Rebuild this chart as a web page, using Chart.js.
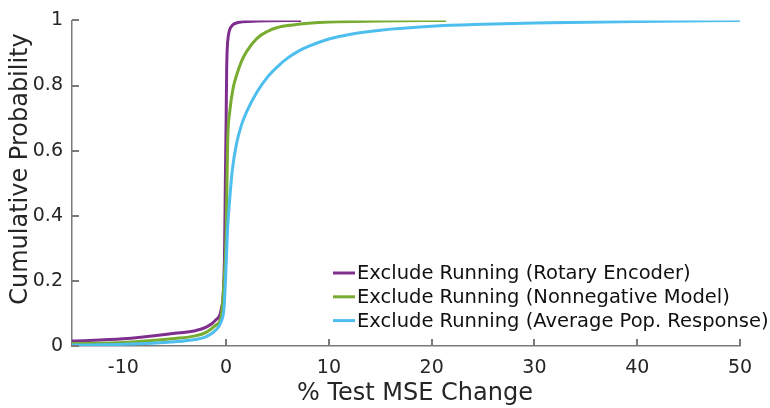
<!DOCTYPE html>
<html>
<head>
<meta charset="utf-8">
<script src="https://cdn.jsdelivr.net/npm/chart.js@4/dist/chart.umd.min.js"></script>
<style>
    html, body { margin: 0; padding: 0; background: #fff; }
</style>
</head>
<body>
<canvas id="cdf-chart" width="770" height="408"></canvas>
<script>
// Tick positions
const xTicks = [-10, 0, 10, 20, 30, 40, 50];
const yTicks = [0, 0.2, 0.4, 0.6, 0.8, 1];

const seriesNames = [
    'Exclude Running (Rotary Encoder)',
    'Exclude Running (Nonnegative Model)',
    'Exclude Running (Average Pop. Response)'
];
const seriesColors = ['#7E2F8E', '#77AC30', '#4DBEEE'];

// Rotary encoder CDF
const rotaryX = [-15, -10, -5, -3, -2, -1, -0.5, -0.25, -0.15, -0.08, 0, 0.05, 0.1, 0.2, 0.35, 0.6, 1, 1.6, 3, 7.3];
const rotaryY = [0.015, 0.022, 0.039, 0.047, 0.057, 0.08, 0.11, 0.18, 0.3, 0.5, 0.7, 0.85, 0.91, 0.95, 0.972, 0.985, 0.992, 0.996, 0.998, 1.0];

// Nonnegative model CDF
const nonnegX = [-15, -10, -5, -3, -2, -1, -0.5, -0.2, 0, 0.08, 0.15, 0.35, 0.7, 1, 1.5, 2, 3, 4, 5, 6.5, 8, 10, 15, 21.4];
const nonnegY = [0.008, 0.011, 0.023, 0.031, 0.041, 0.064, 0.09, 0.2, 0.35, 0.5, 0.63, 0.72, 0.795, 0.83, 0.875, 0.905, 0.945, 0.966, 0.978, 0.986, 0.991, 0.995, 0.998, 1.0];

// Average population response CDF
const avgPopX = [-15, -10, -5, -3, -2, -1, -0.5, -0.2, 0, 0.13, 0.36, 0.6, 1, 1.5, 2, 3, 4, 5, 6, 7, 8, 10, 12, 15, 20, 25, 30, 40, 50];
const avgPopY = [0.003, 0.005, 0.013, 0.02, 0.028, 0.049, 0.074, 0.12, 0.25, 0.355, 0.457, 0.54, 0.62, 0.68, 0.72, 0.78, 0.825, 0.858, 0.885, 0.905, 0.92, 0.943, 0.957, 0.97, 0.982, 0.988, 0.992, 0.997, 1.0];

const FONT = "'DejaVu Sans', sans-serif";
const TEXT_COLOR = '#262626';
const AXIS_COLOR = '#7a7a7a';

function toPoints(xs, ys) {
    return xs.map((x, i) => ({ x: x, y: ys[i] }));
}

const seriesData = [
    toPoints(rotaryX, rotaryY),
    toPoints(nonnegX, nonnegY),
    toPoints(avgPopX, avgPopY)
];

// Short tick marks pointing into the plot, plus the corner legend
const overlayPlugin = {
    id: 'overlay',
    afterDatasetsDraw(chart) {
        const c = chart.ctx;
        const left = chart.scales.x.left;
        const bottom = chart.scales.y.bottom;
        const tickLen = 7;
        c.save();
        c.strokeStyle = AXIS_COLOR;
        c.lineWidth = 2;
        xTicks.forEach(v => {
            if (v === -10) return; // hidden under the curves
            const px = Math.round(chart.scales.x.getPixelForValue(v));
            c.beginPath();
            c.moveTo(px, bottom);
            c.lineTo(px, bottom - tickLen);
            c.stroke();
        });
        yTicks.forEach(v => {
            const py = Math.round(chart.scales.y.getPixelForValue(v));
            c.beginPath();
            c.moveTo(left, py);
            c.lineTo(left + tickLen, py);
            c.stroke();
        });

        const x0 = 333, lineLen = 22, rowY = 273, rowGap = 23.8;
        c.font = '19.5px ' + FONT;
        c.textBaseline = 'middle';
        c.fillStyle = '#111';
        chart.data.datasets.forEach((ds, i) => {
            const y = rowY + i * rowGap;
            c.strokeStyle = ds.borderColor;
            c.lineWidth = 3;
            c.beginPath();
            c.moveTo(x0, y);
            c.lineTo(x0 + lineLen, y);
            c.stroke();
            c.fillText(ds.label, x0 + lineLen + 2, y + 1);
        });
        c.restore();
    }
};

// Axis titles
const titlesPlugin = {
    id: 'axisTitles',
    afterDraw(chart) {
        const c = chart.ctx;
        c.save();
        c.font = '24px ' + FONT;
        c.fillStyle = TEXT_COLOR;
        c.textAlign = 'center';
        c.textBaseline = 'middle';
        c.fillText('% Test MSE Change', 415, 394);
        c.translate(21, 169);
        c.rotate(-Math.PI / 2);
        c.fillText('Cumulative Probability', 0, 0);
        c.restore();
    }
};

const ctx = document.getElementById('cdf-chart').getContext('2d');
new Chart(ctx, {
    type: 'line',
    data: {
        datasets: seriesNames.map((name, i) => ({
            label: name,
            data: seriesData[i],
            borderColor: seriesColors[i],
            backgroundColor: seriesColors[i],
            borderWidth: 3,
            pointRadius: 0,
            cubicInterpolationMode: 'monotone',
            fill: false,
            order: seriesNames.length - i
        }))
    },
    options: {
        responsive: false,
        animation: false,
        layout: { padding: { left: 0, top: 19, right: 30, bottom: 0 } },
        plugins: {
            legend: { display: false },
            tooltip: { enabled: false }
        },
        scales: {
            x: {
                type: 'linear',
                min: -15,
                max: 50,
                afterBuildTicks: s => { s.ticks = xTicks.map(v => ({ value: v })); },
                afterFit: s => { s.height = 62; },
                grid: { display: false, drawTicks: false },
                border: { display: true, color: AXIS_COLOR, width: 1.5 },
                ticks: {
                    color: TEXT_COLOR,
                    font: { family: FONT, size: 19 },
                    padding: 11,
                    maxRotation: 0
                }
            },
            y: {
                type: 'linear',
                min: 0,
                max: 1,
                afterBuildTicks: s => { s.ticks = yTicks.map(v => ({ value: v })); },
                afterFit: s => { s.width = 72; },
                grid: { display: false, drawTicks: false },
                border: { display: true, color: AXIS_COLOR, width: 1.5 },
                ticks: {
                    color: TEXT_COLOR,
                    font: { family: FONT, size: 19 },
                    padding: 9,
                    callback: v => String(+v.toFixed(1))
                }
            }
        }
    },
    plugins: [overlayPlugin, titlesPlugin]
});
</script>
</body>
</html>
